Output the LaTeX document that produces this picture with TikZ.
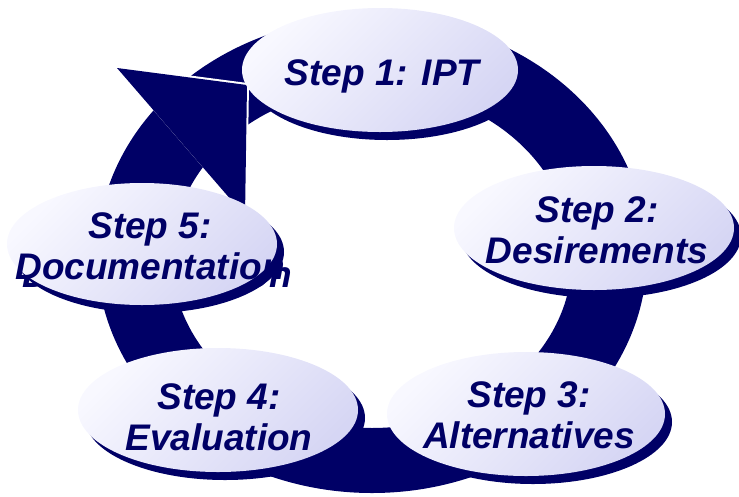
\documentclass[tikz,border=0pt]{standalone}
\usepackage{fontspec}
\setmainfont{Liberation Sans}
\usetikzlibrary{shapes.geometric}
\definecolor{navy}{RGB}{0,0,102}
\definecolor{ellA}{RGB}{248,248,255}
\definecolor{ellB}{RGB}{214,214,244}
\begin{document}
\begin{tikzpicture}[x=1pt,y=-1pt,
  ellshadow/.style={ellipse, fill=navy, draw=none, inner sep=0pt},
  ellface/.style={ellipse, draw=none, inner sep=0pt, top color=ellA, bottom color=ellB, shading angle=45},
  steptext/.style={text=navy, font=\fontsize{37}{41}\selectfont\bfseries\itshape, align=center, inner sep=0pt},
]
\useasboundingbox (0,0) rectangle (739,496);
% ring
\fill[navy, even odd rule] (372,255) ellipse [x radius=275pt, y radius=238pt]
                          (372,258) ellipse [x radius=200pt, y radius=170pt];
% arrowhead with thin white gap to the tail
\coordinate (A) at (117,68);
\coordinate (B) at (247,85);
\coordinate (C) at (245,216);
\coordinate (Ag) at (115,65.7);
\coordinate (Bg) at (249,83.2);
\coordinate (Cg) at (247,218.3);
\fill[white] (Ag) -- (Bg) -- (Cg) -- cycle;
\fill[navy] (A) -- (B) -- (C) -- cycle;

% Step 1
\node[ellshadow, minimum width=276pt, minimum height=124pt] (s1sh) at (387,78) {};
\node[ellface, minimum width=276pt, minimum height=124pt] (s1) at (380,70) {};
\node[steptext] (t1) at (382,76) {Step 1: IPT};

% Step 2
\node[ellshadow, minimum width=280pt, minimum height=124pt] (s2sh) at (601,236) {};
\node[ellface, minimum width=280pt, minimum height=124pt] (s2) at (594,228) {};
\node[steptext] (t2) at (597,230) {Step 2:\\Desirements};

% Step 3
\node[ellshadow, minimum width=278pt, minimum height=124pt] (s3sh) at (533,422) {};
\node[ellface, minimum width=278pt, minimum height=124pt] (s3) at (526,414) {};
\node[steptext] (t3) at (529,415) {Step 3:\\Alternatives};

% Step 4
\node[ellshadow, minimum width=280pt, minimum height=124pt] (s4sh) at (225,418) {};
\node[ellface, minimum width=280pt, minimum height=124pt] (s4) at (218,410) {};
\node[steptext] (t4) at (219,417) {Step 4:\\Evaluation};

% Step 5 (its text runs past the ellipse, so the text shadow shows)
\node[ellshadow, minimum width=270pt, minimum height=122pt] (s5sh) at (149,252) {};
\node[steptext] (t5sh) at (157,254) {Step 5:\\Documentation};
\node[ellface, minimum width=270pt, minimum height=122pt] (s5) at (142,244) {};
\node[steptext] (t5) at (150,246) {Step 5:\\Documentation};
\end{tikzpicture}
\end{document}
